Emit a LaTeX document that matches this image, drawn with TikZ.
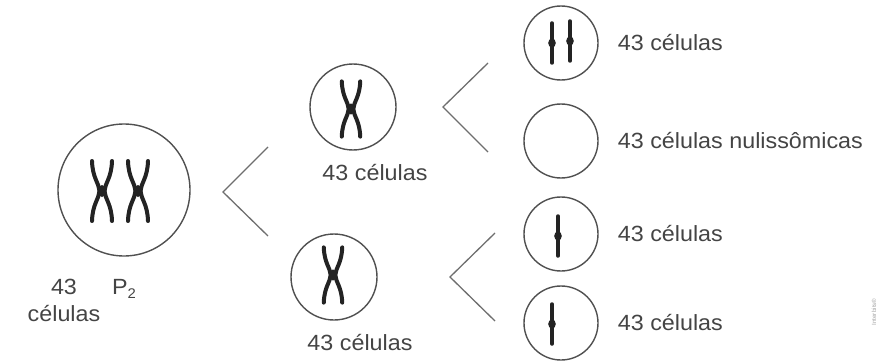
\documentclass[tikz,border=0pt]{standalone}
\usepackage{fontspec}
\setmainfont{Liberation Sans}[FakeStretch=1.06]
\usetikzlibrary{positioning}
\definecolor{linegray}{RGB}{80,80,80}
\definecolor{forkgray}{RGB}{110,110,110}
\definecolor{textgray}{RGB}{68,68,68}
\definecolor{chromdark}{RGB}{35,35,35}
\tikzset{
    cell/.style={circle, draw=linegray, line width=1.4pt, inner sep=0pt},
    bigcell/.style={cell, minimum size=132pt},
    midcell/.style={cell, minimum size=86pt},
    smallcell/.style={cell, minimum size=74pt},
    fork/.style={draw=forkgray, line width=1.3pt},
    lbl/.style={text=textgray, font=\fontsize{22}{27}\selectfont, inner sep=0pt},
    chromatid/.style={draw=chromdark, line width=4pt, line cap=round},
    xchrom/.pic={
        \draw[chromatid] (-10,-30) .. controls (-9.5,-13) and (-3,-8) .. (-2.5,0) .. controls (-3,8) and (-9.5,13) .. (-10,30);
        \draw[chromatid] (10,-30) .. controls (9.5,-13) and (3,-8) .. (2.5,0) .. controls (3,8) and (9.5,13) .. (10,30);
        \fill[chromdark] (0,0) ellipse (4.5 and 6);
    },
    onechrom/.pic={
        \draw[chromatid, line width=3.5pt] (0,-20) -- (0,20);
        \fill[chromdark] (0,0) ellipse (3.8 and 4.5);
    }
}

\begin{document}
\begin{tikzpicture}[x=1pt, y=-1pt]
    \useasboundingbox (0,0) rectangle (887,361);

    % cells
    \node[bigcell] (p2) at (124,190) {};
    \node[midcell] (m1) at (353,107) {};
    \node[midcell] (m2) at (334,277) {};
    \node[smallcell] (r1) at (561,43) {};
    \node[smallcell] (r2) at (561,141) {};
    \node[smallcell] (r3) at (561,234) {};
    \node[smallcell] (r4) at (561,323) {};

    % chromosomes
    \pic at (102,191) {xchrom};
    \pic at (138,191) {xchrom};
    \pic[scale=0.92] at (351,109) {xchrom};
    \pic[scale=0.92] at (333,275) {xchrom};
    \pic at (552,43) {onechrom};
    \pic at (570,41) {onechrom};
    \pic at (558,236) {onechrom};
    \pic at (552,324) {onechrom};

    % labels
    \node[lbl, align=center] (p2n) at (64,300) {43\\células};
    \node[lbl] (p2l) at (124,289) {P\raisebox{-0.35ex}{\fontsize{14}{14}\selectfont 2}};
    \node[lbl] (m1n) at (375,173) {43 células};
    \node[lbl] (m2n) at (360,343) {43 células};
    \node[lbl, right=19pt of r1] (r1n) {43 células};
    \node[lbl, right=19pt of r2] (r2n) {43 células nulissômicas};
    \node[lbl, right=19pt of r3] (r3n) {43 células};
    \node[lbl, right=19pt of r4] (r4n) {43 células};

    % forks
    \coordinate (f1t) at (268,147);
    \coordinate (f1m) at (223,192);
    \coordinate (f1b) at (268,236);
    \coordinate (f2t) at (488,63);
    \coordinate (f2m) at (443,107);
    \coordinate (f2b) at (488,152);
    \coordinate (f3t) at (495,233);
    \coordinate (f3m) at (450,277);
    \coordinate (f3b) at (495,321);
    \draw[fork] (f1t) -- (f1m) -- (f1b);
    \draw[fork] (f2t) -- (f2m) -- (f2b);
    \draw[fork] (f3t) -- (f3m) -- (f3b);

    \node[rotate=90, text=gray!70, font=\fontsize{6}{6}\selectfont] (mark) at (874,312) {Interbits®};
\end{tikzpicture}
\end{document}
